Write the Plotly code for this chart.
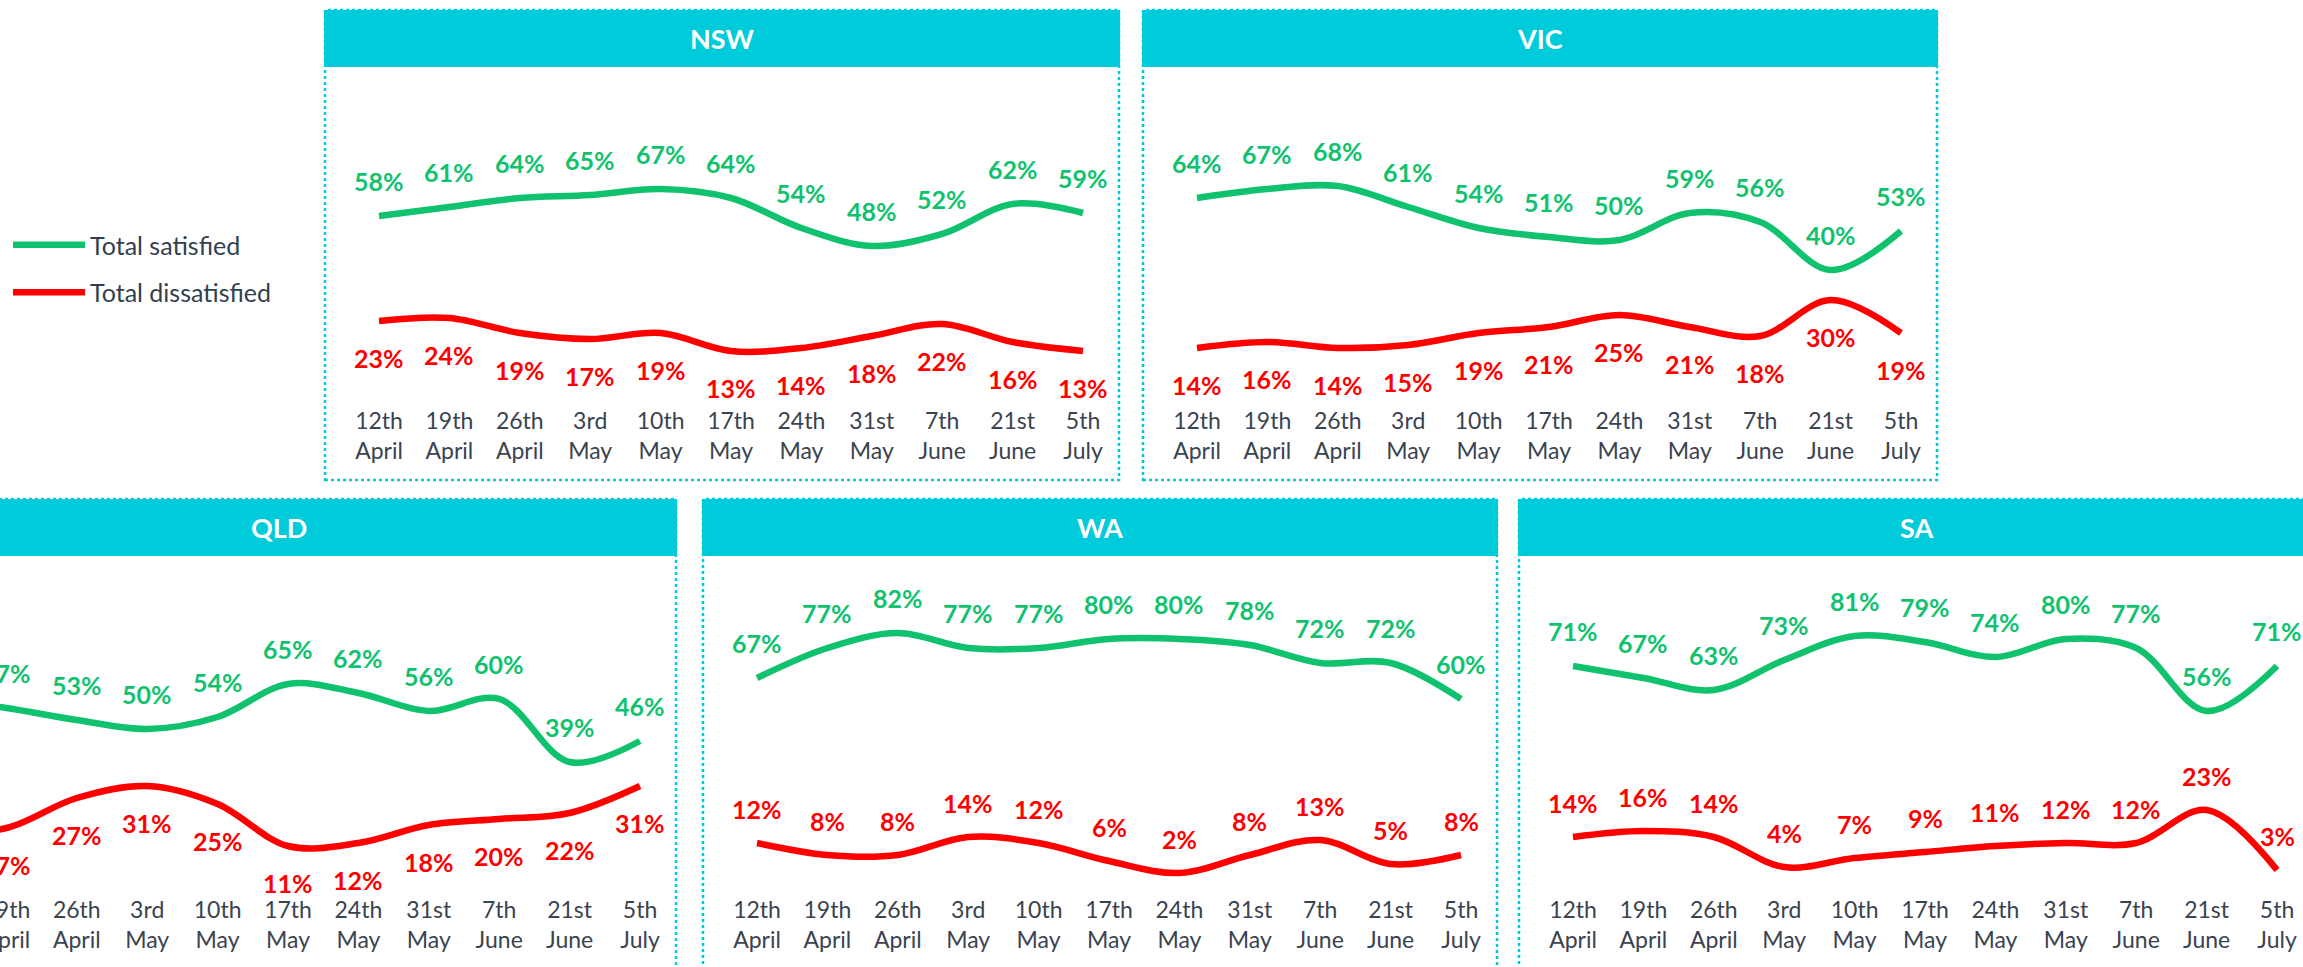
import plotly.graph_objects as go

# ---------------- data ----------------
dates = ["12th<br>April", "19th<br>April", "26th<br>April", "3rd<br>May", "10th<br>May",
         "17th<br>May", "24th<br>May", "31st<br>May", "7th<br>June", "21st<br>June", "5th<br>July"]

states = ["NSW", "VIC", "QLD", "WA", "SA"]

nsw_satisfied = [58, 61, 64, 65, 67, 64, 54, 48, 52, 62, 59]
nsw_dissatisfied = [23, 24, 19, 17, 19, 13, 14, 18, 22, 16, 13]

vic_satisfied = [64, 67, 68, 61, 54, 51, 50, 59, 56, 40, 53]
vic_dissatisfied = [14, 16, 14, 15, 19, 21, 25, 21, 18, 30, 19]

# first QLD point lies outside the visible picture (estimated)
qld_satisfied = [60, 57, 53, 50, 54, 65, 62, 56, 60, 39, 46]
qld_dissatisfied = [15, 17, 27, 31, 25, 11, 12, 18, 20, 22, 31]

wa_satisfied = [67, 77, 82, 77, 77, 80, 80, 78, 72, 72, 60]
wa_dissatisfied = [12, 8, 8, 14, 12, 6, 2, 8, 13, 5, 8]

sa_satisfied = [71, 67, 63, 73, 81, 79, 74, 80, 77, 56, 71]
sa_dissatisfied = [14, 16, 14, 4, 7, 9, 11, 12, 12, 23, 3]

satisfied = [nsw_satisfied, vic_satisfied, qld_satisfied, wa_satisfied, sa_satisfied]
dissatisfied = [nsw_dissatisfied, vic_dissatisfied, qld_dissatisfied, wa_dissatisfied, sa_dissatisfied]

# ---------------- styling / layout ----------------
W, H = 2303, 967
GREEN = "#10C26E"
RED = "#FF0000"
CYAN = "#00CBDB"
TICK = "#3A4350"
FONT = "Lato"

PANEL_W = 796
OFF_L = 55
STEP = 70.4
# (left px, row, red labels above?)
panel_pos = [(324, 0, False), (1142, 0, False), (-119, 1, False), (702, 1, True), (1518, 1, True)]
ROW_SHIFT = 489

fig = go.Figure()
annotations = []
shapes = []
layout_axes = {}

x_idx = list(range(len(dates)))

for i, (name, (left, row, red_above)) in enumerate(zip(states, panel_pos)):
    n = i + 1
    xa = "x" if n == 1 else f"x{n}"
    ya = "y" if n == 1 else f"y{n}"
    dy = row * ROW_SHIFT

    dom_l = max(left, 0)
    dom_r = min(left + PANEL_W, W)
    r0 = (dom_l - (left + OFF_L)) / STEP
    r1 = r0 + (dom_r - dom_l) / STEP

    top_px, bot_px = 95 + dy, 405 + dy
    layout_axes["xaxis" if n == 1 else f"xaxis{n}"] = dict(
        domain=[dom_l / W, dom_r / W], range=[r0, r1], anchor=ya,
        tickmode="array", tickvals=x_idx, ticktext=dates,
        showgrid=False, zeroline=False, showline=False, ticks="",
        ticklabeloverflow="allow", automargin=False,
        tickfont=dict(family=FONT, size=23, color=TICK), fixedrange=True)
    layout_axes["yaxis" if n == 1 else f"yaxis{n}"] = dict(
        domain=[(H - bot_px) / H, (H - top_px) / H], range=[-5, 98.33], anchor=xa,
        visible=False, fixedrange=True, automargin=False)

    fig.add_trace(go.Scatter(
        x=x_idx, y=satisfied[i], mode="lines", name="Total satisfied",
        line=dict(color=GREEN, width=6.5, shape="spline", smoothing=1.0),
        xaxis=xa, yaxis=ya, legendgroup="sat", showlegend=(n == 1), hoverinfo="skip"))
    fig.add_trace(go.Scatter(
        x=x_idx, y=dissatisfied[i], mode="lines", name="Total dissatisfied",
        line=dict(color=RED, width=6.5, shape="spline", smoothing=1.0),
        xaxis=xa, yaxis=ya, legendgroup="dis", showlegend=(n == 1), hoverinfo="skip"))

    for k, v in enumerate(satisfied[i]):
        annotations.append(dict(x=k, y=v, xref=xa, yref=ya, text=f"{v}%", showarrow=False,
                                yshift=35, font=dict(family=FONT, size=25, color=GREEN, weight="bold")))
    for k, v in enumerate(dissatisfied[i]):
        annotations.append(dict(x=k, y=v, xref=xa, yref=ya, text=f"{v}%", showarrow=False,
                                yshift=(34 if red_above else -37),
                                font=dict(family=FONT, size=25, color=RED, weight="bold")))

    # panel border (dotted) and header band
    box_top, box_bot = 10 + dy, 480 + dy
    hdr_bot = 67 + dy
    shapes.append(dict(type="rect", xref="paper", yref="paper",
                       x0=(left + 1) / W, x1=(left + PANEL_W - 1) / W,
                       y0=(H - box_bot) / H, y1=(H - box_top) / H,
                       line=dict(color=CYAN, width=2.5, dash="dot"), fillcolor="rgba(0,0,0,0)", layer="below"))
    shapes.append(dict(type="rect", xref="paper", yref="paper",
                       x0=left / W, x1=(left + PANEL_W) / W,
                       y0=(H - hdr_bot) / H, y1=(H - box_top) / H,
                       line=dict(width=0), fillcolor=CYAN, layer="below"))
    annotations.append(dict(x=(left + PANEL_W / 2) / W, y=(H - (box_top + hdr_bot) / 2) / H,
                            xref="paper", yref="paper", text=name, showarrow=False,
                            xanchor="center", yanchor="middle",
                            font=dict(family=FONT, size=27, color="white", weight="bold")))

fig.update_layout(
    width=W, height=H,
    margin=dict(l=0, r=0, t=0, b=0, pad=0, autoexpand=False),
    paper_bgcolor="white", plot_bgcolor="rgba(0,0,0,0)",
    annotations=annotations, shapes=shapes,
    showlegend=True,
    legend=dict(x=8 / W, y=(H - 222) / H, xanchor="left", yanchor="top",
                font=dict(family=FONT, size=25, color="#333F50"),
                bgcolor="rgba(0,0,0,0)", tracegroupgap=12, itemwidth=72,
                traceorder="grouped"),
    **layout_axes,
)

fig.write_html("out.html", config={"displayModeBar": False},
               post_script="document.body.style.margin='0px';")
